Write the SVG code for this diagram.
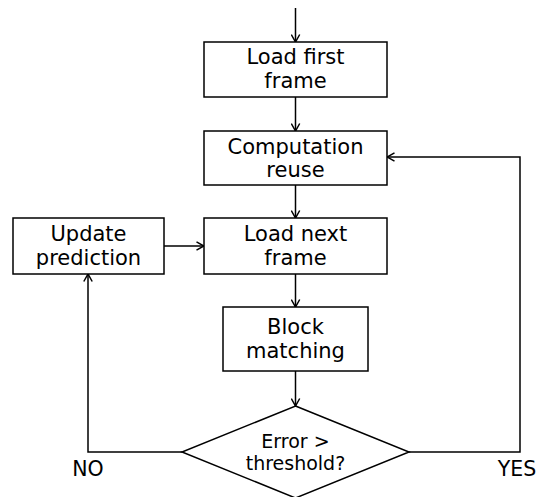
<svg xmlns="http://www.w3.org/2000/svg" width="537" height="497" viewBox="0 0 537 497">
  <style>
    .box { fill: #ffffff; stroke: #000000; stroke-width: 1.5; }
    .edge { fill: none; stroke: #000000; stroke-width: 1.5; marker-end: url(#arrow); }
    text { font-family: "DejaVu Sans", sans-serif; fill: #000000; text-anchor: middle; }
    .lbl { font-size: 21px; }
    .dlbl { font-size: 19px; }
    .branch { font-size: 20.5px; }
  </style>
  <defs>
    <marker id="arrow" viewBox="0 0 10 10" refX="9.5" refY="5" markerWidth="10" markerHeight="10" markerUnits="userSpaceOnUse" orient="auto">
      <path d="M2,0.8 L9.5,5 L2,9.2" fill="none" stroke="#000000" stroke-width="1.5"/>
    </marker>
  </defs>

  <!-- connectors -->
  <g id="connectors">
    <line class="edge" x1="295.5" y1="8" x2="295.5" y2="42"/>
    <line class="edge" x1="295.5" y1="97" x2="295.5" y2="131"/>
    <line class="edge" x1="295.5" y1="185" x2="295.5" y2="218"/>
    <line class="edge" x1="164" y1="246" x2="204" y2="246"/>
    <line class="edge" x1="295.5" y1="274" x2="295.5" y2="307"/>
    <line class="edge" x1="295.5" y1="371" x2="295.5" y2="406"/>
    <polyline class="edge" points="182,452 88,452 88,274"/>
    <polyline class="edge" points="409,452 520,452 520,157 387,157"/>
  </g>

  <g id="load-first">
    <rect class="box" x="204" y="42" width="183" height="55"/>
    <text class="lbl" x="295.5" y="64">Load first</text>
    <text class="lbl" x="295.5" y="88">frame</text>
  </g>

  <g id="computation-reuse">
    <rect class="box" x="204" y="131" width="183" height="54"/>
    <text class="lbl" x="295.5" y="154">Computation</text>
    <text class="lbl" x="295.5" y="177">reuse</text>
  </g>

  <g id="update-prediction">
    <rect class="box" x="13" y="218" width="151" height="56"/>
    <text class="lbl" x="88.5" y="241">Update</text>
    <text class="lbl" x="88.5" y="265">prediction</text>
  </g>

  <g id="load-next">
    <rect class="box" x="204" y="218" width="183" height="56"/>
    <text class="lbl" x="295.5" y="241">Load next</text>
    <text class="lbl" x="295.5" y="265">frame</text>
  </g>

  <g id="block-matching">
    <rect class="box" x="223" y="307" width="145" height="64"/>
    <text class="lbl" x="295.5" y="334">Block</text>
    <text class="lbl" x="295.5" y="358">matching</text>
  </g>

  <g id="decision">
    <polygon class="box" points="295.5,406 409,452 295.5,498 182,452"/>
    <text class="dlbl" x="295.5" y="448">Error &gt;</text>
    <text class="dlbl" x="295.5" y="470">threshold?</text>
  </g>

  <g id="branch-labels">
    <text class="branch" x="88" y="476">NO</text>
    <text class="branch" x="517" y="476">YES</text>
  </g>
</svg>
